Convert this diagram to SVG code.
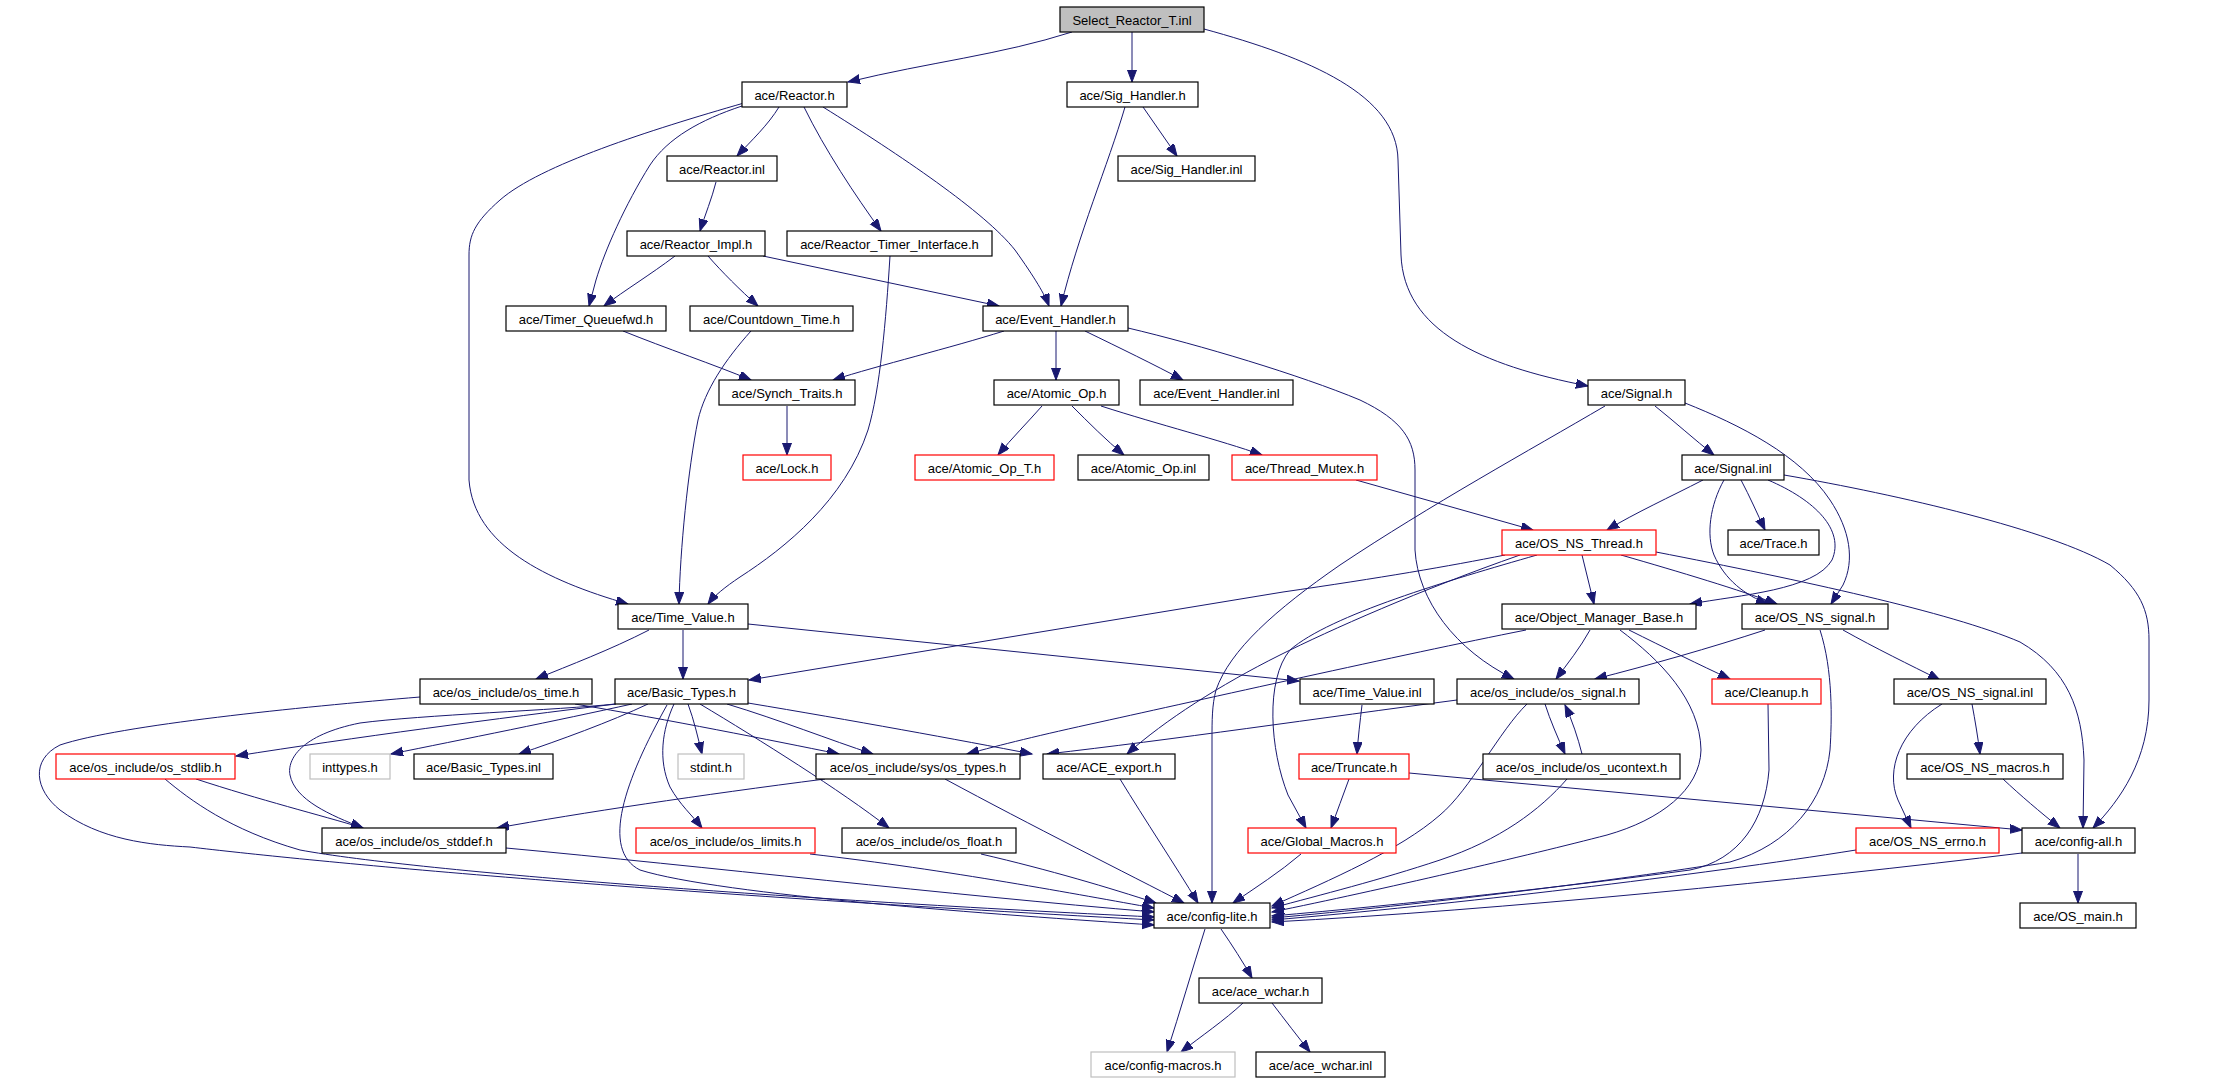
<svg xmlns="http://www.w3.org/2000/svg" width="2219" height="1083" viewBox="0 0 2219 1083">
<defs>
<style>
.n rect{fill:#fff;stroke:#000;stroke-width:1.2}
.n.r rect{stroke:#f00}
.n.g rect{stroke:#bfbfbf}
.n.top rect{fill:#bfbfbf}
.n text{font-family:"Liberation Sans",Arial,sans-serif;font-size:13px;text-anchor:middle;fill:#000}
#edges path{fill:none;stroke:#191970;stroke-width:1;marker-end:url(#a)}
</style>
<marker id="a" markerWidth="14" markerHeight="12" refX="12" refY="4.5" orient="auto" markerUnits="userSpaceOnUse"><path d="M0,0 L12,4.5 L0,9 z" fill="#191970" stroke="#191970" stroke-width="1"/></marker>
</defs>
<rect width="2219" height="1083" fill="#fff"/>
<g id="edges">
<path d="M1072,32 C1000,55 930,62 848,82"/>
<path d="M1132,32 L1132,82"/>
<path d="M1204,29 C1310,58 1397,95 1398,160 L1401,255 C1404,330 1480,365 1588,386"/>
<path d="M779,107 C768,125 752,140 737,156"/>
<path d="M742,106 C700,120 668,138 650,165 C625,205 605,250 596,280 L589,306"/>
<path d="M744,103 C650,130 540,165 500,200 C475,222 469,235 469,255 L469,480 C474,545 545,580 628,604"/>
<path d="M804,107 C825,150 855,195 881,231"/>
<path d="M823,107 C900,155 985,212 1015,250 C1035,278 1045,295 1049,306"/>
<path d="M1125,107 C1108,165 1078,235 1061,306"/>
<path d="M1143,107 L1177,156"/>
<path d="M716,182 C712,198 705,215 700,231"/>
<path d="M675,256 C650,275 625,290 604,306"/>
<path d="M708,256 C722,272 740,290 758,306"/>
<path d="M763,256 L999,306"/>
<path d="M623,331 C665,348 715,365 751,380"/>
<path d="M751,331 C725,360 705,390 698,420 C688,470 680,550 679,604"/>
<path d="M890,256 C886,320 880,390 868,430 C845,500 785,548 740,577 C725,587 714,596 708,604"/>
<path d="M1004,331 C950,348 880,365 833,380"/>
<path d="M1056,331 L1056,380"/>
<path d="M1085,331 C1120,348 1155,365 1183,380"/>
<path d="M1128,328 C1200,345 1300,375 1360,400 C1402,420 1415,440 1415,470 L1415,550 C1418,600 1455,650 1514,679"/>
<path d="M787,406 L787,455"/>
<path d="M1042,406 C1028,422 1012,438 998,455"/>
<path d="M1072,406 C1088,422 1106,440 1124,455"/>
<path d="M1101,406 C1160,425 1220,440 1262,455"/>
<path d="M1356,480 L1533,530"/>
<path d="M1655,406 C1675,422 1695,440 1714,455"/>
<path d="M1605,406 C1530,450 1430,505 1340,565 C1275,610 1230,650 1216,690 C1212,705 1212,720 1212,740 L1212,903"/>
<path d="M1685,403 C1740,425 1800,455 1830,500 C1850,530 1855,560 1843,585 L1831,604"/>
<path d="M1703,480 C1670,497 1635,513 1607,530"/>
<path d="M1741,480 C1750,497 1757,513 1765,530"/>
<path d="M1724,480 C1710,505 1706,535 1714,555 C1725,580 1745,595 1768,604"/>
<path d="M1768,480 C1815,500 1845,530 1832,560 C1815,590 1740,595 1690,604"/>
<path d="M1784,475 C1900,495 2050,530 2110,565 C2140,590 2149,610 2149,640 L2149,700 C2149,760 2120,800 2093,828"/>
<path d="M1582,555 L1594,604"/>
<path d="M1621,555 C1680,572 1740,590 1777,604"/>
<path d="M1656,552 C1800,580 1950,612 2020,642 C2068,670 2082,710 2084,760 L2083,828"/>
<path d="M1505,555 C1450,566 1380,578 1283,592 L749,680"/>
<path d="M1520,555 C1420,590 1330,630 1280,655 C1220,685 1165,720 1127,754"/>
<path d="M1537,555 C1450,580 1330,615 1290,650 C1265,680 1270,750 1288,795 L1306,828"/>
<path d="M649,630 C610,650 570,665 536,679"/>
<path d="M683,630 L683,679"/>
<path d="M748,624 L1299,681"/>
<path d="M616,704 C500,718 350,738 236,756"/>
<path d="M632,704 C560,720 460,740 391,754"/>
<path d="M648,704 C610,722 560,740 519,754"/>
<path d="M688,704 C694,720 698,738 702,754"/>
<path d="M727,704 C780,720 830,740 873,754"/>
<path d="M748,703 C850,720 960,740 1032,754"/>
<path d="M674,704 C662,730 658,760 670,787 C680,805 692,815 702,828"/>
<path d="M700,704 C760,740 840,790 889,828"/>
<path d="M615,704 C560,710 420,715 360,723 C300,735 287,760 290,775 C295,800 330,815 363,828"/>
<path d="M667,705 C625,780 600,850 640,870 C720,895 1000,915 1154,925"/>
<path d="M575,704 C670,720 770,740 839,754"/>
<path d="M420,697 C300,707 120,725 60,745 C30,760 35,790 60,810 C100,840 150,845 190,847 C300,860 600,890 1154,920"/>
<path d="M196,779 C260,800 320,815 363,828"/>
<path d="M165,779 C190,800 230,830 300,850 C420,872 800,900 1154,917"/>
<path d="M506,848 C700,866 950,895 1154,912"/>
<path d="M810,854 C950,870 1080,895 1154,908"/>
<path d="M981,854 C1050,870 1110,888 1156,903"/>
<path d="M825,779 C700,795 580,813 497,828"/>
<path d="M945,779 C1030,825 1130,875 1184,903"/>
<path d="M1120,779 C1145,820 1175,865 1198,903"/>
<path d="M1301,854 C1280,872 1255,888 1233,903"/>
<path d="M1349,779 C1343,795 1337,812 1331,828"/>
<path d="M1409,773 L2022,830"/>
<path d="M1362,705 C1360,722 1358,738 1357,754"/>
<path d="M1545,704 C1550,720 1558,738 1565,754"/>
<path d="M1582,754 C1578,738 1572,720 1565,705"/>
<path d="M1527,704 C1500,730 1470,790 1440,815 C1400,850 1330,880 1272,906"/>
<path d="M1457,700 C1320,718 1170,740 1047,754"/>
<path d="M1590,630 C1580,648 1568,663 1556,679"/>
<path d="M1526,630 C1400,655 1200,700 1100,722 C1040,735 1000,745 967,754"/>
<path d="M1629,630 C1665,648 1700,665 1730,679"/>
<path d="M1620,630 C1660,660 1700,700 1701,750 C1700,790 1660,820 1607,835 C1530,855 1380,890 1272,912"/>
<path d="M1768,704 L1769,770 C1765,820 1740,860 1690,870 C1580,885 1400,905 1272,916"/>
<path d="M1765,630 C1710,648 1650,665 1595,679"/>
<path d="M1843,630 C1875,648 1910,665 1940,680"/>
<path d="M1820,630 C1833,670 1832,720 1830,750 C1825,800 1790,845 1730,862 C1620,880 1420,905 1272,918"/>
<path d="M1942,704 C1900,730 1885,770 1898,800 L1911,828"/>
<path d="M1972,704 C1975,720 1978,738 1980,754"/>
<path d="M2003,779 C2020,795 2040,812 2060,828"/>
<path d="M1856,850 C1700,875 1450,905 1272,920"/>
<path d="M2022,853 C1800,880 1500,910 1272,922"/>
<path d="M2078,854 L2078,903"/>
<path d="M1221,929 C1232,945 1243,962 1252,978"/>
<path d="M1205,929 C1192,970 1180,1012 1167,1052"/>
<path d="M1243,1003 C1225,1020 1200,1037 1181,1052"/>
<path d="M1272,1003 C1285,1020 1298,1037 1310,1052"/>
<path d="M1567,779 C1540,810 1500,840 1440,860 C1380,880 1320,895 1272,908"/>
</g>
<g id="n_SR" class="n top"><rect x="1060" y="7" width="144" height="25"/><text x="1132" y="24.5">Select_Reactor_T.inl</text></g>
<g id="n_R" class="n"><rect x="742" y="82" width="105" height="25"/><text x="794.5" y="99.5">ace/Reactor.h</text></g>
<g id="n_SH" class="n"><rect x="1067" y="82" width="131" height="25"/><text x="1132.5" y="99.5">ace/Sig_Handler.h</text></g>
<g id="n_RI" class="n"><rect x="667" y="156" width="110" height="25"/><text x="722" y="173.5">ace/Reactor.inl</text></g>
<g id="n_SHI" class="n"><rect x="1118" y="156" width="137" height="25"/><text x="1186.5" y="173.5">ace/Sig_Handler.inl</text></g>
<g id="n_RIm" class="n"><rect x="627" y="231" width="138" height="25"/><text x="696" y="248.5">ace/Reactor_Impl.h</text></g>
<g id="n_RTI" class="n"><rect x="787" y="231" width="205" height="25"/><text x="889.5" y="248.5">ace/Reactor_Timer_Interface.h</text></g>
<g id="n_TQ" class="n"><rect x="506" y="306" width="160" height="25"/><text x="586" y="323.5">ace/Timer_Queuefwd.h</text></g>
<g id="n_CT" class="n"><rect x="690" y="306" width="163" height="25"/><text x="771.5" y="323.5">ace/Countdown_Time.h</text></g>
<g id="n_EH" class="n"><rect x="983" y="306" width="145" height="25"/><text x="1055.5" y="323.5">ace/Event_Handler.h</text></g>
<g id="n_ST" class="n"><rect x="719" y="380" width="136" height="25"/><text x="787" y="397.5">ace/Synch_Traits.h</text></g>
<g id="n_AO" class="n"><rect x="994" y="380" width="125" height="25"/><text x="1056.5" y="397.5">ace/Atomic_Op.h</text></g>
<g id="n_EHI" class="n"><rect x="1140" y="380" width="153" height="25"/><text x="1216.5" y="397.5">ace/Event_Handler.inl</text></g>
<g id="n_S" class="n"><rect x="1588" y="380" width="97" height="25"/><text x="1636.5" y="397.5">ace/Signal.h</text></g>
<g id="n_L" class="n r"><rect x="743" y="455" width="88" height="25"/><text x="787" y="472.5">ace/Lock.h</text></g>
<g id="n_AOT" class="n r"><rect x="915" y="455" width="139" height="25"/><text x="984.5" y="472.5">ace/Atomic_Op_T.h</text></g>
<g id="n_AOI" class="n"><rect x="1078" y="455" width="131" height="25"/><text x="1143.5" y="472.5">ace/Atomic_Op.inl</text></g>
<g id="n_TM" class="n r"><rect x="1232" y="455" width="145" height="25"/><text x="1304.5" y="472.5">ace/Thread_Mutex.h</text></g>
<g id="n_SI" class="n"><rect x="1682" y="455" width="102" height="25"/><text x="1733" y="472.5">ace/Signal.inl</text></g>
<g id="n_OT" class="n r"><rect x="1502" y="530" width="154" height="25"/><text x="1579" y="547.5">ace/OS_NS_Thread.h</text></g>
<g id="n_TR" class="n"><rect x="1728" y="530" width="91" height="25"/><text x="1773.5" y="547.5">ace/Trace.h</text></g>
<g id="n_TV" class="n"><rect x="618" y="604" width="130" height="25"/><text x="683" y="621.5">ace/Time_Value.h</text></g>
<g id="n_OMB" class="n"><rect x="1502" y="604" width="194" height="25"/><text x="1599" y="621.5">ace/Object_Manager_Base.h</text></g>
<g id="n_ONS" class="n"><rect x="1742" y="604" width="146" height="25"/><text x="1815" y="621.5">ace/OS_NS_signal.h</text></g>
<g id="n_OTM" class="n"><rect x="420" y="679" width="172" height="25"/><text x="506" y="696.5">ace/os_include/os_time.h</text></g>
<g id="n_BT" class="n"><rect x="615" y="679" width="133" height="25"/><text x="681.5" y="696.5">ace/Basic_Types.h</text></g>
<g id="n_TVI" class="n"><rect x="1300" y="679" width="134" height="25"/><text x="1367" y="696.5">ace/Time_Value.inl</text></g>
<g id="n_OSG" class="n"><rect x="1457" y="679" width="182" height="25"/><text x="1548" y="696.5">ace/os_include/os_signal.h</text></g>
<g id="n_CL" class="n r"><rect x="1712" y="679" width="109" height="25"/><text x="1766.5" y="696.5">ace/Cleanup.h</text></g>
<g id="n_ONSI" class="n"><rect x="1894" y="679" width="152" height="25"/><text x="1970" y="696.5">ace/OS_NS_signal.inl</text></g>
<g id="n_OSL" class="n r"><rect x="56" y="754" width="179" height="25"/><text x="145.5" y="771.5">ace/os_include/os_stdlib.h</text></g>
<g id="n_IT" class="n g"><rect x="310" y="754" width="80" height="25"/><text x="350" y="771.5">inttypes.h</text></g>
<g id="n_BTI" class="n"><rect x="414" y="754" width="139" height="25"/><text x="483.5" y="771.5">ace/Basic_Types.inl</text></g>
<g id="n_SD" class="n g"><rect x="678" y="754" width="66" height="25"/><text x="711" y="771.5">stdint.h</text></g>
<g id="n_OTY" class="n"><rect x="816" y="754" width="204" height="25"/><text x="918" y="771.5">ace/os_include/sys/os_types.h</text></g>
<g id="n_AE" class="n"><rect x="1043" y="754" width="132" height="25"/><text x="1109" y="771.5">ace/ACE_export.h</text></g>
<g id="n_TRU" class="n r"><rect x="1299" y="754" width="110" height="25"/><text x="1354" y="771.5">ace/Truncate.h</text></g>
<g id="n_OUC" class="n"><rect x="1483" y="754" width="197" height="25"/><text x="1581.5" y="771.5">ace/os_include/os_ucontext.h</text></g>
<g id="n_ONM" class="n"><rect x="1907" y="754" width="156" height="25"/><text x="1985" y="771.5">ace/OS_NS_macros.h</text></g>
<g id="n_OSD" class="n"><rect x="322" y="828" width="184" height="25"/><text x="414" y="845.5">ace/os_include/os_stddef.h</text></g>
<g id="n_OLM" class="n r"><rect x="636" y="828" width="179" height="25"/><text x="725.5" y="845.5">ace/os_include/os_limits.h</text></g>
<g id="n_OFL" class="n"><rect x="842" y="828" width="174" height="25"/><text x="929" y="845.5">ace/os_include/os_float.h</text></g>
<g id="n_GM" class="n r"><rect x="1248" y="828" width="148" height="25"/><text x="1322" y="845.5">ace/Global_Macros.h</text></g>
<g id="n_ONE" class="n r"><rect x="1856" y="828" width="143" height="25"/><text x="1927.5" y="845.5">ace/OS_NS_errno.h</text></g>
<g id="n_CA" class="n"><rect x="2022" y="828" width="113" height="25"/><text x="2078.5" y="845.5">ace/config-all.h</text></g>
<g id="n_CLT" class="n"><rect x="1154" y="903" width="116" height="25"/><text x="1212" y="920.5">ace/config-lite.h</text></g>
<g id="n_OM" class="n"><rect x="2020" y="903" width="116" height="25"/><text x="2078" y="920.5">ace/OS_main.h</text></g>
<g id="n_AW" class="n"><rect x="1199" y="978" width="123" height="25"/><text x="1260.5" y="995.5">ace/ace_wchar.h</text></g>
<g id="n_CM" class="n g"><rect x="1091" y="1052" width="144" height="25"/><text x="1163" y="1069.5">ace/config-macros.h</text></g>
<g id="n_AWI" class="n"><rect x="1256" y="1052" width="129" height="25"/><text x="1320.5" y="1069.5">ace/ace_wchar.inl</text></g>
</svg>
